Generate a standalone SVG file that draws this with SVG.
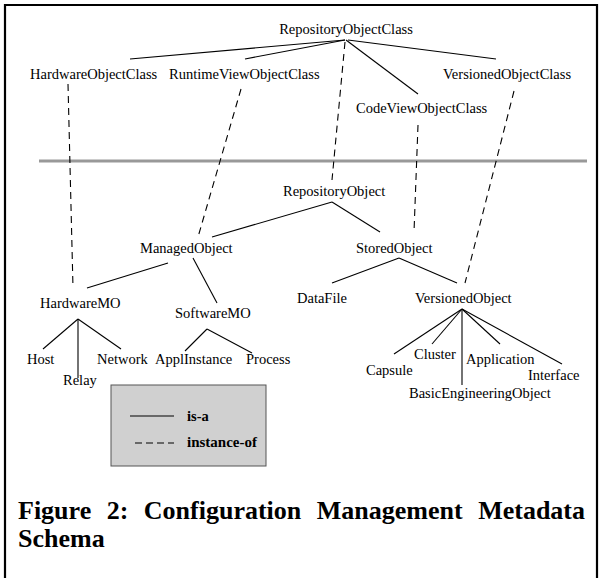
<svg xmlns="http://www.w3.org/2000/svg" width="602" height="578" viewBox="0 0 602 578">
<style>
text{font-family:"Liberation Serif","Times New Roman",serif;font-size:14.5px;fill:#000}
.b{font-weight:bold}
.cap{font-weight:bold;font-size:26px}
.s{stroke:#000;stroke-width:1.1;fill:none}
.d{stroke:#000;stroke-width:1.1;fill:none;stroke-dasharray:7 5}
</style>
<rect width="602" height="578" fill="#fff"/>
<path d="M5 578V5H597V578" fill="none" stroke="#000" stroke-width="2.2"/>
<line x1="39" y1="161" x2="587" y2="161" stroke="#999" stroke-width="3"/>
<g id="connectors">
<line class="s" x1="345" y1="40" x2="130" y2="59"/>
<line class="s" x1="345" y1="40" x2="245" y2="59"/>
<line class="s" x1="348" y1="40" x2="496" y2="59"/>
<line class="s" x1="346" y1="40" x2="418" y2="94"/>
<line class="s" x1="332" y1="202" x2="212" y2="237"/>
<line class="s" x1="332" y1="202" x2="380" y2="232"/>
<line class="s" x1="168" y1="263" x2="87" y2="288"/>
<line class="s" x1="193" y1="258" x2="217" y2="303"/>
<line class="s" x1="399" y1="258" x2="332" y2="283"/>
<line class="s" x1="399" y1="258" x2="457" y2="283"/>
<line class="s" x1="78" y1="319" x2="43" y2="349"/>
<line class="s" x1="78" y1="319" x2="78" y2="378"/>
<line class="s" x1="78" y1="319" x2="121" y2="349"/>
<line class="s" x1="207" y1="329" x2="185" y2="351"/>
<line class="s" x1="207" y1="329" x2="252" y2="353"/>
<line class="s" x1="462" y1="309" x2="394" y2="354"/>
<line class="s" x1="462" y1="309" x2="432" y2="344"/>
<line class="s" x1="462" y1="309" x2="462" y2="385"/>
<line class="s" x1="462" y1="309" x2="500" y2="344"/>
<line class="s" x1="462" y1="309" x2="562" y2="364"/>
<line class="d" x1="68" y1="84" x2="73" y2="288"/>
<line class="d" x1="241" y1="89" x2="198" y2="237"/>
<line class="d" x1="345" y1="42" x2="332" y2="180"/>
<line class="d" x1="418" y1="125" x2="414" y2="232"/>
<line class="d" x1="514" y1="91" x2="465" y2="283"/>
</g>
<g id="RepositoryObjectClass"><text x="346" y="34" text-anchor="middle">RepositoryObjectClass</text></g>
<g id="HardwareObjectClass"><text x="30" y="79">HardwareObjectClass</text></g>
<g id="RuntimeViewObjectClass"><text x="169" y="79">RuntimeViewObjectClass</text></g>
<g id="VersionedObjectClass"><text x="443" y="79">VersionedObjectClass</text></g>
<g id="CodeViewObjectClass"><text x="356" y="113">CodeViewObjectClass</text></g>
<g id="RepositoryObject"><text x="283" y="196">RepositoryObject</text></g>
<g id="ManagedObject"><text x="140" y="253">ManagedObject</text></g>
<g id="StoredObject"><text x="356" y="253">StoredObject</text></g>
<g id="HardwareMO"><text x="40" y="308">HardwareMO</text></g>
<g id="SoftwareMO"><text x="175" y="318">SoftwareMO</text></g>
<g id="DataFile"><text x="297" y="303">DataFile</text></g>
<g id="VersionedObject"><text x="415" y="303">VersionedObject</text></g>
<g id="Host"><text x="27" y="364">Host</text></g>
<g id="Relay"><text x="63" y="385">Relay</text></g>
<g id="Network"><text x="97" y="364">Network</text></g>
<g id="ApplInstance"><text x="155" y="364">ApplInstance</text></g>
<g id="Process"><text x="246" y="364">Process</text></g>
<g id="Capsule"><text x="366" y="375">Capsule</text></g>
<g id="Cluster"><text x="414" y="359">Cluster</text></g>
<g id="Application"><text x="466" y="364">Application</text></g>
<g id="Interface"><text x="528" y="380">Interface</text></g>
<g id="BasicEngineeringObject"><text x="409" y="398">BasicEngineeringObject</text></g>
<g id="legend">
<rect x="111" y="385" width="155" height="81" fill="#d0d0d0" stroke="#555" stroke-width="1"/>
<line class="s" x1="130" y1="416" x2="174" y2="416"/>
<line x1="135" y1="443" x2="174" y2="443" stroke="#000" stroke-width="1.1" stroke-dasharray="7 4"/>
<text class="b" x="187" y="421">is-a</text>
<text class="b" x="187" y="447" textLength="70" lengthAdjust="spacingAndGlyphs">instance-of</text>
</g>
<g id="caption">
<text class="cap" x="18" y="519" word-spacing="9">Figure 2: Configuration Management Metadata</text>
<text class="cap" x="18" y="547">Schema</text>
</g>
</svg>
